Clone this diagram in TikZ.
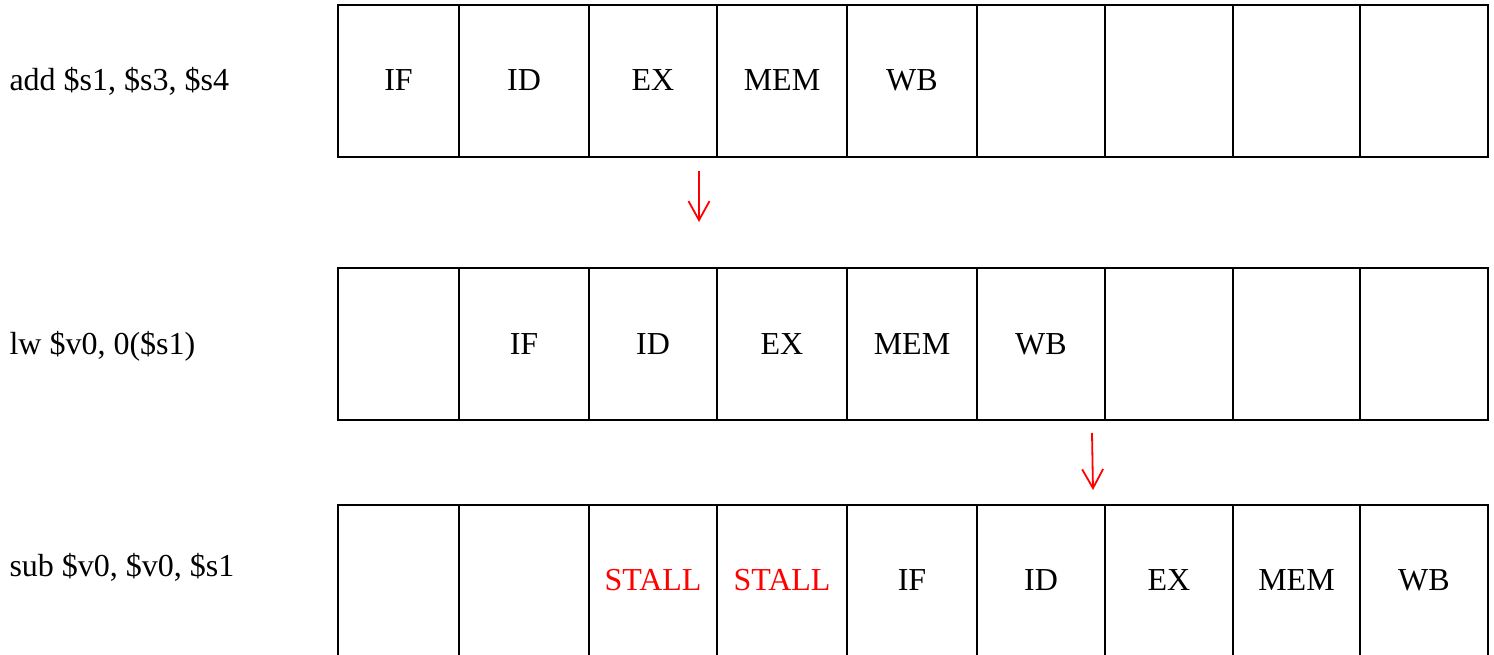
\documentclass[tikz,border=0pt]{standalone}
\usepackage{fontspec}
\setmainfont{Liberation Serif}
\usetikzlibrary{arrows.meta}

\tikzset{
  cell/.style={draw=black, line width=1.3pt, inner sep=0pt, minimum height=152pt},
  stage/.style={font=\fontsize{32}{37}\selectfont, anchor=base},
  stall/.style={stage, text=red},
  instr/.style={font=\fontsize{32}{37}\selectfont, anchor=base west},
  hazard/.style={draw=red, line width=1.8pt, -{Straight Barb[length=19pt,width=21pt]}}
}

\begin{document}
\begin{tikzpicture}[x=1pt, y=-1pt]
  \useasboundingbox (0,0) rectangle (1494,655);
  \clip (0,0) rectangle (1494,655);

  % pipeline grid: three rows of nine clock cycles
  \foreach \r/\top in {1/5, 2/268, 3/505} {
    \foreach \c/\l/\rr in {1/338/459, 2/459/589, 3/589/717, 4/717/847, 5/847/977,
                           6/977/1105, 7/1105/1233, 8/1233/1360, 9/1360/1488} {
      \node[cell, minimum width={\rr-\l}] (r\r c\c) at ({(\l+\rr)/2}, {\top+76}) {};
    }
  }

  % instructions
  \node[instr] (i1) at (6, 91)  {add \$s1, \$s3, \$s4};
  \node[instr] (i2) at (6, 354) {lw \$v0, 0(\$s1)};
  \node[instr] (i3) at (6, 576) {sub \$v0, \$v0, \$s1};

  % stages of add
  \foreach \c/\t in {1/IF, 2/ID, 3/EX, 4/MEM, 5/WB}
    \node[stage] (s1\c) at ([yshift=-10pt]r1c\c.center) {\t};
  % stages of lw
  \foreach \c/\t in {2/IF, 3/ID, 4/EX, 5/MEM, 6/WB}
    \node[stage] (s2\c) at ([yshift=-10pt]r2c\c.center) {\t};
  % stages of sub
  \foreach \c/\t in {5/IF, 6/ID, 7/EX, 8/MEM, 9/WB}
    \node[stage] (s3\c) at ([yshift=-9pt]r3c\c.center) {\t};
  \node[stall] (st3) at ([yshift=-9pt]r3c3.center) {STALL};
  \node[stall] (st4) at ([yshift=-9pt]r3c4.center) {STALL};

  % data dependencies
  \coordinate (d1a) at (699, 171);
  \coordinate (d1b) at (699, 222);
  \coordinate (d2a) at (1092, 433);
  \coordinate (d2b) at (1093, 490);
  \draw[hazard] (d1a) -- (d1b);
  \draw[hazard] (d2a) -- (d2b);
\end{tikzpicture}
\end{document}
